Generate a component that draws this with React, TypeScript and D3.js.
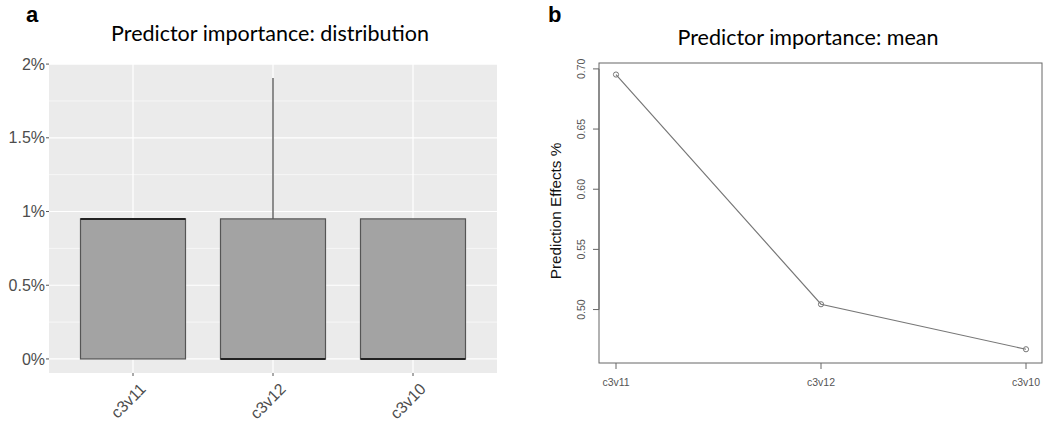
import React from "react";
import { scaleLinear, scalePoint, line } from "d3";

// panel a: boxplot summary per predictor (percent)
const predictors = ["c3v11", "c3v12", "c3v10"];
const boxLow = [0, 0, 0];
const boxHigh = [0.95, 0.95, 0.95];
const medians = [0.95, 0, 0];
const whiskerTop = [0.95, 1.905, 0.95];
const aTicks = [0, 0.5, 1, 1.5, 2];
const aTickLabels = ["0%", "0.5%", "1%", "1.5%", "2%"];
const aMinor = [0.25, 0.75, 1.25, 1.75];

// panel b: mean importance
const meanValues = [0.6953, 0.5044, 0.467];
const bTicks = [0.5, 0.55, 0.6, 0.65, 0.7];

const font = "'Liberation Sans', Arial, sans-serif";
const titleFont = "Lato, 'Open Sans', sans-serif";

function PanelA() {
  const left = 49, right = 497, top = 64, bottom = 373;
  const x = scalePoint().domain(predictors).range([left, right]).padding(0.6);
  const bw = x.step() * 0.75;
  const y = scaleLinear().domain([-0.0953, 2.0006]).range([bottom, top]);
  const cx = (c: string) => x(c) as number;
  return (
    <g>
      <text x={26} y={22} fontFamily={font} fontWeight="bold" fontSize={22}>a</text>
      <text x={270} y={41} textAnchor="middle" fontFamily={titleFont} fontSize={21.5}>
        Predictor importance: distribution
      </text>
      <rect x={left} y={top} width={right - left} height={bottom - top} fill="#ebebeb" />
      {aMinor.map((t) => (
        <line key={t} x1={left} x2={right} y1={y(t)} y2={y(t)} stroke="#fff" strokeWidth={0.6} />
      ))}
      {aTicks.map((t) => (
        <line key={t} x1={left} x2={right} y1={y(t)} y2={y(t)} stroke="#fff" strokeWidth={1.2} />
      ))}
      {predictors.map((c) => (
        <line key={c} x1={cx(c)} x2={cx(c)} y1={top} y2={bottom} stroke="#fff" strokeWidth={1.2} />
      ))}
      {predictors.map((c, i) => (
        <g key={c}>
          {whiskerTop[i] > boxHigh[i] && (
            <line x1={cx(c)} x2={cx(c)} y1={y(whiskerTop[i])} y2={y(boxHigh[i])} stroke="#444" strokeWidth={1.2} />
          )}
          <rect
            x={cx(c) - bw / 2}
            y={y(boxHigh[i])}
            width={bw}
            height={y(boxLow[i]) - y(boxHigh[i])}
            fill="#a3a3a3"
            stroke="#555"
            strokeWidth={1.2}
          />
          <line
            x1={cx(c) - bw / 2}
            x2={cx(c) + bw / 2}
            y1={y(medians[i])}
            y2={y(medians[i])}
            stroke="#222"
            strokeWidth={2}
          />
        </g>
      ))}
      {aTicks.map((t, i) => (
        <g key={t}>
          <line x1={left - 3} x2={left} y1={y(t)} y2={y(t)} stroke="#555" />
          <text x={left - 4} y={y(t)} dy="0.35em" textAnchor="end" fontFamily={font} fontSize={16} fill="#4d4d4d">
            {aTickLabels[i]}
          </text>
        </g>
      ))}
      {predictors.map((c) => (
        <g key={c}>
          <line x1={cx(c)} x2={cx(c)} y1={bottom} y2={bottom + 3} stroke="#555" />
          <text
            transform={`translate(${cx(c) + 6},${bottom + 9}) rotate(-45)`}
            textAnchor="end"
            dy="0.7em"
            fontFamily={font}
            fontSize={16}
            fill="#4d4d4d"
          >
            {c}
          </text>
        </g>
      ))}
    </g>
  );
}

function PanelB() {
  const left = 599, right = 1042, top = 63, bottom = 363;
  const x = scalePoint().domain(predictors).range([616, 1026]);
  const y = scaleLinear().domain([0.45558, 0.7049]).range([bottom, top]);
  const path = line<number>()
    .x((_, i) => x(predictors[i]) as number)
    .y((d) => y(d));
  return (
    <g>
      <text x={548} y={22} fontFamily={font} fontWeight="bold" fontSize={22}>b</text>
      <text x={808} y={45} textAnchor="middle" fontFamily={titleFont} fontSize={21.5}>
        Predictor importance: mean
      </text>
      <rect x={left} y={top} width={right - left} height={bottom - top} fill="none" stroke="#666" strokeWidth={1} />
      <path d={path(meanValues) as string} fill="none" stroke="#777" strokeWidth={1.2} />
      {meanValues.map((v, i) => (
        <circle key={i} cx={x(predictors[i])} cy={y(v)} r={2.6} fill="none" stroke="#777" strokeWidth={1} />
      ))}
      <line x1={left} x2={left} y1={y(0.5)} y2={y(0.7)} stroke="#666" />
      {bTicks.map((t) => (
        <g key={t}>
          <line x1={left - 6} x2={left} y1={y(t)} y2={y(t)} stroke="#666" />
          <text
            transform={`translate(${left - 14},${y(t)}) rotate(-90)`}
            textAnchor="middle"
            fontFamily={font}
            fontSize={10.5}
            fill="#555"
          >
            {t.toFixed(2)}
          </text>
        </g>
      ))}
      {predictors.map((c) => (
        <g key={c}>
          <line x1={x(c)} x2={x(c)} y1={bottom} y2={bottom + 6} stroke="#666" />
          <text x={x(c)} y={386} textAnchor="middle" fontFamily={font} fontSize={10.5} fill="#555">
            {c}
          </text>
        </g>
      ))}
      <text
        transform={`translate(561,211) rotate(-90)`}
        textAnchor="middle"
        fontFamily={font}
        fontSize={15.3}
        fill="#111"
      >
        Prediction Effects %
      </text>
    </g>
  );
}

export default function App() {
  return (
    <svg width={1045} height={427} style={{ position: "absolute", left: 0, top: 0, background: "#fff" }}>
      <PanelA />
      <PanelB />
    </svg>
  );
}
